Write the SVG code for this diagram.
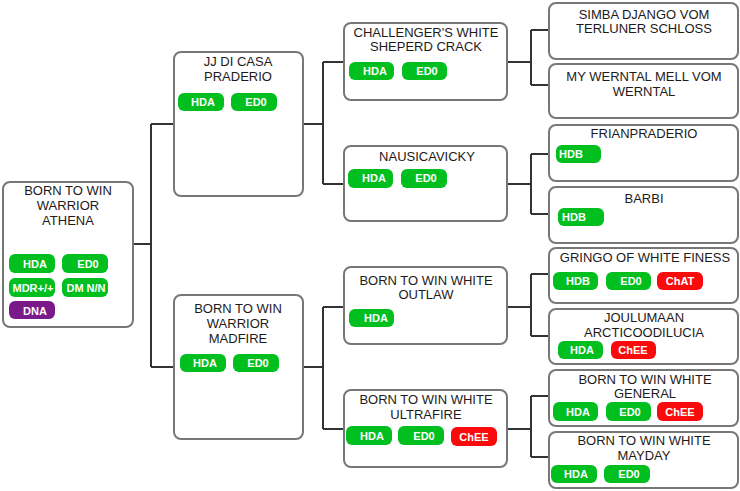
<svg xmlns="http://www.w3.org/2000/svg" width="740" height="491" viewBox="0 0 740 491">
<style>
.box{fill:#fff;stroke:#777;stroke-width:2}
.t{font-family:"Liberation Sans",Arial,sans-serif;font-size:13px;fill:#1e1a1a;text-anchor:middle}
.b{font-family:"Liberation Sans",Arial,sans-serif;font-size:11px;font-weight:bold;fill:#fff;text-anchor:middle}
.g{fill:#00bf1f}
.r{fill:#fa0a0a}
.p{fill:#7a1a8a}
.c{fill:none;stroke:#333;stroke-width:2}
</style>
<rect width="740" height="491" fill="#fff"/>
<g id="connectors">
<path class="c" d="M133 244H151M151 124V367M151 124H174M151 367H174"/>
<path class="c" d="M303 124H323M323 62V184M323 62H343M323 184H343"/>
<path class="c" d="M303 367H323M323 307V429M323 307H343M323 429H343"/>
<path class="c" d="M507 62H531M531 30V85M531 30H549M531 85H549"/>
<path class="c" d="M507 184H531M531 154V214M531 154H549M531 214H549"/>
<path class="c" d="M507 307H531M531 274V336M531 274H549M531 336H549"/>
<path class="c" d="M507 429H531M531 396V457M531 396H549M531 457H549"/>
</g>
<g id="n1">
<rect class="box" x="3" y="182" width="130" height="145" rx="7"/>
<text class="t" x="68" y="195">BORN TO WIN</text>
<text class="t" x="68" y="210">WARRIOR</text>
<text class="t" x="68" y="225">ATHENA</text>
<rect class="g" x="9" y="254" width="46" height="19" rx="6"/><text class="b" x="35" y="268">HDA</text>
<rect class="g" x="62" y="254" width="46" height="19" rx="6"/><text class="b" x="88" y="268">ED0</text>
<rect class="g" x="9" y="278" width="46" height="19" rx="6"/><text class="b" x="33" y="292">MDR+/+</text>
<rect class="g" x="62" y="278" width="46" height="19" rx="6"/><text class="b" x="86" y="292">DM N/N</text>
<rect class="p" x="9" y="301" width="46" height="18" rx="6"/><text class="b" x="35" y="315">DNA</text>
</g>
<g id="n2">
<rect class="box" x="174" y="52" width="129" height="144" rx="7"/>
<text class="t" x="238" y="66">JJ DI CASA</text>
<text class="t" x="238" y="81">PRADERIO</text>
<rect class="g" x="178" y="93" width="46" height="18" rx="6"/><text class="b" x="203" y="106">HDA</text>
<rect class="g" x="231" y="93" width="46" height="18" rx="6"/><text class="b" x="256" y="106">ED0</text>
</g>
<g id="n3">
<rect class="box" x="174" y="295" width="129" height="144" rx="7"/>
<text class="t" x="238" y="313">BORN TO WIN</text>
<text class="t" x="238" y="328">WARRIOR</text>
<text class="t" x="238" y="343">MADFIRE</text>
<rect class="g" x="180" y="354" width="46" height="18" rx="6"/><text class="b" x="205" y="367">HDA</text>
<rect class="g" x="233" y="354" width="46" height="18" rx="6"/><text class="b" x="258" y="367">ED0</text>
</g>
<g id="n4">
<rect class="box" x="344" y="23" width="163" height="77" rx="7"/>
<text class="t" x="426" y="37">CHALLENGER'S WHITE</text>
<text class="t" x="426" y="51">SHEPERD CRACK</text>
<rect class="g" x="349" y="62" width="45" height="18" rx="6"/><text class="b" x="375" y="75">HDA</text>
<rect class="g" x="402" y="62" width="45" height="18" rx="6"/><text class="b" x="427" y="75">ED0</text>
</g>
<g id="n5">
<rect class="box" x="344" y="146" width="163" height="75" rx="7"/>
<text class="t" x="427" y="161">NAUSICAVICKY</text>
<rect class="g" x="348" y="169" width="45" height="19" rx="6"/><text class="b" x="374" y="182">HDA</text>
<rect class="g" x="401" y="169" width="46" height="19" rx="6"/><text class="b" x="426" y="182">ED0</text>
</g>
<g id="n6">
<rect class="box" x="344" y="267" width="163" height="77" rx="7"/>
<text class="t" x="426" y="285">BORN TO WIN WHITE</text>
<text class="t" x="426" y="299">OUTLAW</text>
<rect class="g" x="349" y="309" width="45" height="18" rx="6"/><text class="b" x="376" y="322">HDA</text>
</g>
<g id="n7">
<rect class="box" x="344" y="390" width="163" height="77" rx="7"/>
<text class="t" x="426" y="404">BORN TO WIN WHITE</text>
<text class="t" x="426" y="419">ULTRAFIRE</text>
<rect class="g" x="346" y="426" width="46" height="19" rx="6"/><text class="b" x="372" y="440">HDA</text>
<rect class="g" x="398" y="426" width="46" height="19" rx="6"/><text class="b" x="424" y="440">ED0</text>
<rect class="r" x="451" y="427" width="46" height="19" rx="6"/><text class="b" x="474" y="441">ChEE</text>
</g>
<g id="n8">
<rect class="box" x="549" y="3" width="189" height="56" rx="7"/>
<text class="t" x="644" y="19">SIMBA DJANGO VOM</text>
<text class="t" x="644" y="33">TERLUNER SCHLOSS</text>
</g>
<g id="n9">
<rect class="box" x="549" y="64" width="189" height="54" rx="7"/>
<text class="t" x="644" y="81">MY WERNTAL MELL VOM</text>
<text class="t" x="644" y="96">WERNTAL</text>
</g>
<g id="n10">
<rect class="box" x="549" y="125" width="189" height="56" rx="7"/>
<text class="t" x="644" y="138">FRIANPRADERIO</text>
<rect class="g" x="556" y="145" width="45" height="18" rx="6"/><text class="b" x="571" y="158">HDB</text>
</g>
<g id="n11">
<rect class="box" x="549" y="187" width="189" height="56" rx="7"/>
<text class="t" x="644" y="203">BARBI</text>
<rect class="g" x="558" y="208" width="46" height="18" rx="6"/><text class="b" x="574" y="221">HDB</text>
</g>
<g id="n12">
<rect class="box" x="549" y="248" width="189" height="55" rx="7"/>
<text class="t" x="645" y="262">GRINGO OF WHITE FINESS</text>
<rect class="g" x="553" y="272" width="45" height="18" rx="6"/><text class="b" x="578" y="285">HDB</text>
<rect class="g" x="606" y="272" width="45" height="18" rx="6"/><text class="b" x="631" y="285">ED0</text>
<rect class="r" x="657" y="272" width="46" height="18" rx="6"/><text class="b" x="680" y="285">ChAT</text>
</g>
<g id="n13">
<rect class="box" x="549" y="309" width="189" height="55" rx="7"/>
<text class="t" x="644" y="322">JOULUMAAN</text>
<text class="t" x="644" y="337">ARCTICOODILUCIA</text>
<rect class="g" x="558" y="341" width="45" height="18" rx="6"/><text class="b" x="582" y="354">HDA</text>
<rect class="r" x="611" y="341" width="45" height="18" rx="6"/><text class="b" x="633" y="354">ChEE</text>
</g>
<g id="n14">
<rect class="box" x="549" y="370" width="189" height="56" rx="7"/>
<text class="t" x="645" y="384">BORN TO WIN WHITE</text>
<text class="t" x="645" y="398">GENERAL</text>
<rect class="g" x="553" y="402" width="45" height="19" rx="6"/><text class="b" x="578" y="416">HDA</text>
<rect class="g" x="606" y="402" width="45" height="19" rx="6"/><text class="b" x="630" y="416">ED0</text>
<rect class="r" x="657" y="402" width="46" height="19" rx="6"/><text class="b" x="680" y="416">ChEE</text>
</g>
<g id="n15">
<rect class="box" x="549" y="432" width="189" height="56" rx="7"/>
<text class="t" x="644" y="445">BORN TO WIN WHITE</text>
<text class="t" x="644" y="460">MAYDAY</text>
<rect class="g" x="551" y="465" width="46" height="18" rx="6"/><text class="b" x="576" y="478">HDA</text>
<rect class="g" x="604" y="465" width="46" height="18" rx="6"/><text class="b" x="629" y="478">ED0</text>
</g>
</svg>
